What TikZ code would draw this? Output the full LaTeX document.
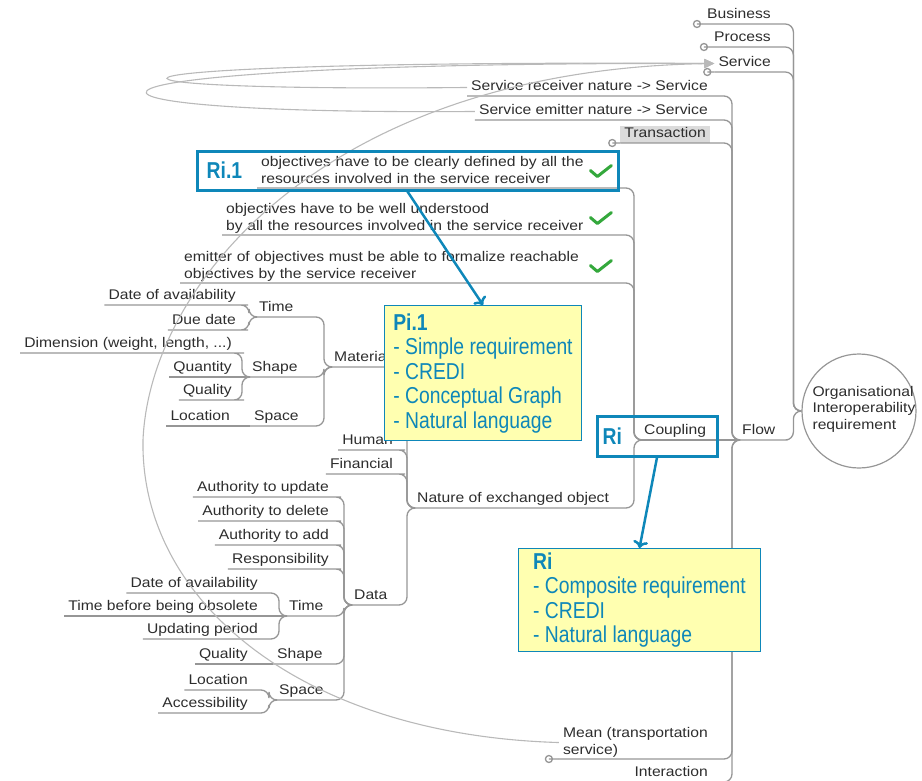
\documentclass[tikz,border=0pt]{standalone}
\usepackage{fontspec}
\usepackage{tikz}
\usetikzlibrary{shapes,arrows,arrows.meta,positioning,calc}
\usepackage{xcolor}

\newfontfamily\mapfont{Liberation Sans}[FakeStretch=1.12]
\newfontfamily\notefont{Liberation Sans}[FakeStretch=0.84]
\definecolor{linegray}{RGB}{150,150,150}
\definecolor{relgray}{RGB}{185,185,185}
\definecolor{textgray}{RGB}{45,45,45}
\definecolor{riblue}{RGB}{14,135,185}
\definecolor{noteyellow}{RGB}{255,255,176}
\definecolor{tickgreen}{RGB}{52,168,60}

\newcommand{\mlink}[2]{\draw[link] (#1.south west) -- (#1.south east) -| ($(#2.south west)+(-6,0)$) -- (#2.south west);}
\newcommand{\slink}[2]{\draw[link] (#1.south west) -- (#2.south west);}
\newcommand{\knob}[2]{\draw[link, fill=white] (#1.south west) -- ++(-#2,0) circle (3.5);}

\begin{document}
\begin{tikzpicture}[x=1pt, y=-1pt,
    topic/.style={font=\mapfont\fontsize{14}{16.5}\selectfont, text=textgray, inner xsep=4, inner ysep=1.5, text depth=3.5pt, align=left},
    multi/.style={topic, text depth=},
    link/.style={draw=linegray, line width=1.3, rounded corners=8},
    relation/.style={draw=relgray, line width=1.1, -{Triangle[length=10pt, width=9pt]}},
    root/.style={circle, draw=linegray, line width=1.2, minimum size=114, inner sep=0},
    hilite/.style={draw=riblue, line width=3, inner sep=0},
    hilabel/.style={font=\notefont\fontsize{23}{24.5}\selectfont\bfseries, text=riblue, inner sep=0},
    note/.style={draw=riblue, line width=1, fill=noteyellow, text=riblue, align=left, anchor=north west, font=\notefont\fontsize{23}{24.5}\selectfont},
    callout/.style={->, draw=riblue, line width=2.5},
    tick/.style={draw=tickgreen, line width=3, line cap=round, line join=round},
]
    \useasboundingbox (0,0) rectangle (922,780);

    \node[root] (root) at (859,411) {};
    \node[font=\mapfont\fontsize{14}{16.5}\selectfont, text=textgray, align=left, anchor=west] (rootlabel) at (809,409) {Organisational\\Interoperability\\requirement};

    \node[topic, anchor=south east] (business) at (775,24) {Business};
    \node[topic, anchor=south east] (process) at (775,47) {Process};
    \node[topic, anchor=south east] (service) at (775,72) {Service};
    \node[topic, anchor=south west] (flow) at (738,440) {Flow};

    \node[topic, anchor=south east] (receiver) at (712,96) {Service receiver nature -> Service};
    \node[topic, anchor=south east] (emitter) at (712,120) {Service emitter nature -> Service};
    \node[topic, anchor=south east, fill=gray!28] (transaction) at (710,143) {Transaction};
    \node[topic, anchor=south west] (coupling) at (640,440) {Coupling};
    \node[multi, anchor=south east] (mean) at (712,759) {Mean (transportation\\service)\vphantom{y}};
    \node[topic, anchor=south east] (interaction) at (712,782) {Interaction};

    \node[multi, anchor=south west, text width=352] (obj1) at (257,188) {objectives have to be clearly defined by all the\\resources involved in the service receiver\vphantom{y}};
    \node[multi, anchor=south west, text width=387] (obj2) at (222,235) {objectives have to be well understood\\by all the resources involved in the service receiver\vphantom{y}};
    \node[multi, anchor=south west, text width=429] (obj3) at (180,283) {emitter of objectives must be able to formalize reachable\\objectives by the service receiver\vphantom{y}};
    \node[topic, anchor=south west] (nature) at (413,508) {Nature of exchanged object};

    \node[topic, anchor=south west] (material) at (330,367) {Material};
    \node[topic, anchor=south east] (human) at (397,450) {Human};
    \node[topic, anchor=south east] (financial) at (397,474) {Financial};
    \node[topic, anchor=south west] (data) at (350,605) {Data};

    \node[topic, anchor=south west] (mtime) at (255,317) {Time};
    \node[topic, anchor=south west] (mshape) at (248,377) {Shape};
    \node[topic, anchor=south west] (mspace) at (250,426) {Space};
    \node[topic, anchor=south east] (mdate) at (240,305) {Date of availability};
    \node[topic, anchor=south east] (mdue) at (240,330) {Due date};
    \node[topic, anchor=south east] (mdim) at (236,353) {Dimension (weight, length, ...)};
    \node[topic, anchor=south east] (mquantity) at (236,377) {Quantity};
    \node[topic, anchor=south east] (mquality) at (236,400) {Quality};
    \node[topic, anchor=south east] (mlocation) at (234,426) {Location};

    \node[topic, anchor=south east] (dupdate) at (333,497) {Authority to update};
    \node[topic, anchor=south east] (ddelete) at (333,521) {Authority to delete};
    \node[topic, anchor=south east] (dadd) at (333,545) {Authority to add};
    \node[topic, anchor=south east] (dresp) at (333,569) {Responsibility};
    \node[topic, anchor=south west] (dtime) at (285,616) {Time};
    \node[topic, anchor=south west] (dshape) at (273,664) {Shape};
    \node[topic, anchor=south west] (dspace) at (275,700) {Space};
    \node[topic, anchor=south east] (ddate) at (262,593) {Date of availability};
    \node[topic, anchor=south east] (dobsolete) at (262,616) {Time before being obsolete};
    \node[topic, anchor=south east] (dperiod) at (262,639) {Updating period};
    \node[topic, anchor=south east] (dquality) at (252,664) {Quality};
    \node[topic, anchor=south east] (dlocation) at (252,690) {Location};
    \node[topic, anchor=south east] (daccess) at (252,713) {Accessibility};

    \foreach \n in {business,process,service,flow}
        \draw[link] (\n.south west) -- (\n.south east) -| ($(root.west)+(-8,0)$) -- (root.west);
    \foreach \n in {receiver,emitter,transaction,mean,interaction} {\mlink{\n}{flow}}
    \slink{coupling}{flow}
    \foreach \n in {obj1,obj2,obj3,nature} {\mlink{\n}{coupling}}
    \foreach \n in {material,human,financial,data} {\mlink{\n}{nature}}
    \foreach \n in {mtime,mshape,mspace} {\mlink{\n}{material}}
    \foreach \n in {mdate,mdue} {\mlink{\n}{mtime}}
    \foreach \n in {mdim,mquality} {\mlink{\n}{mshape}}
    \slink{mquantity}{mshape}
    \slink{mlocation}{mspace}
    \foreach \n in {dupdate,ddelete,dadd,dresp,dtime,dshape,dspace} {\mlink{\n}{data}}
    \foreach \n in {ddate,dperiod} {\mlink{\n}{dtime}}
    \slink{dobsolete}{dtime}
    \slink{dquality}{dshape}
    \foreach \n in {dlocation,daccess} {\mlink{\n}{dspace}}

    \knob{business}{6}
    \knob{process}{6}
    \knob{service}{7}
    \knob{transaction}{8}
    \knob{mean}{10}

    \draw[relation] (mean.west) .. controls (300,735) and (140,600) .. (143,440) .. controls (150,280) and (330,70) .. (service.west);
    \draw[relation] (receiver.west) .. controls (25,92) and (45,60) .. (service.west);
    \draw[relation] (emitter.west) .. controls (-5,115) and (15,62) .. (service.west);

    \foreach \n in {obj1,obj2,obj3}
        \draw[tick] ($(\n.east)+(-27,-1)$) -- ++(7,6) -- ++(14,-11);

    \node[hilite, minimum width=421, minimum height=39] (ri1box) at (407.5,170.5) {};
    \node[hilabel, right=11pt of ri1box.west] (ri1label) {Ri.1};
    \node[hilite, minimum width=120, minimum height=40] (ribox) at (657,436) {};
    \node[hilabel, right=7pt of ribox.west] (rilabel) {Ri};

    \node[note, minimum width=197, inner xsep=8, inner ysep=8] (pi1) at (384,305) {\textbf{Pi.1}\\- Simple requirement\\- CREDI\\- Conceptual Graph\\- Natural language};
    \node[note, minimum width=242, inner xsep=10, inner ysep=4] (riinfo) at (518,548) {\textbf{Ri}\\- Composite requirement\\- CREDI\\- Natural language};

    \draw[callout] (ri1box.south) -- (pi1.north);
    \draw[callout] (ribox.south) -- (riinfo.north);
\end{tikzpicture}
\end{document}
